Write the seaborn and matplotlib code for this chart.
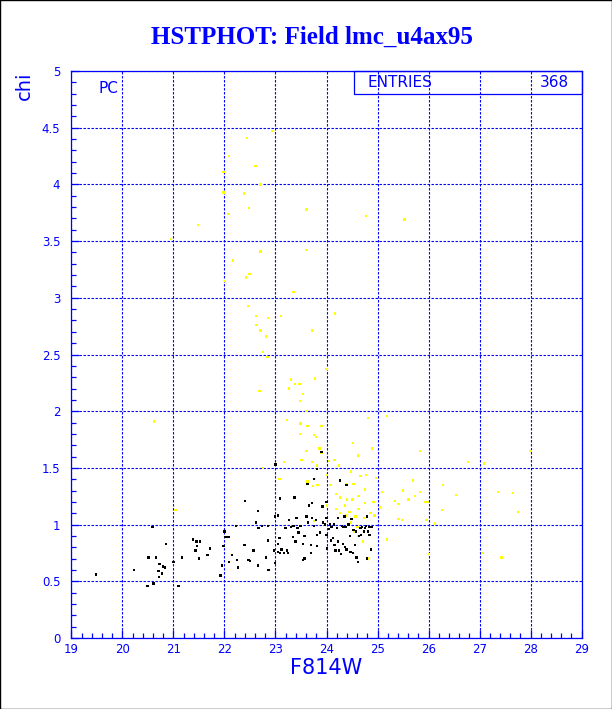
import pandas as pd
import matplotlib
matplotlib.use("Agg")
import matplotlib.pyplot as plt
import matplotlib.ticker as mticker
from matplotlib.patches import Rectangle
import seaborn as sns

# ── Data: stars ────────────────────────────────────────────────
good_mag = [19.48, 20.23, 20.49, 20.61, 20.59, 20.51, 20.66, 20.73, 20.71, 20.72,
            20.77, 20.80, 20.84, 20.85, 21.00, 21.10, 21.17, 21.38, 21.45, 21.52,
            21.46, 21.43, 21.50, 21.67, 21.72, 21.92, 21.95, 21.98, 22.01, 22.05,
            22.09, 22.00, 22.09, 22.15, 22.25, 22.27, 22.23, 22.39, 22.40, 22.47,
            22.50, 22.57, 22.62, 22.66, 22.67, 22.66, 22.73, 22.82, 22.85, 22.85,
            22.86, 22.97, 22.99, 22.99, 23.00, 23.05, 23.05, 23.08, 23.09, 23.09,
            23.05, 23.12, 23.17, 23.20, 23.22, 23.26, 23.25, 23.30, 23.34, 23.35,
            23.37, 23.39, 23.41, 23.43, 23.45, 23.49, 23.54, 23.54, 23.57, 23.57,
            23.61, 23.63, 23.64, 23.66, 23.70, 23.71, 23.72, 23.76, 23.70, 23.75,
            23.79, 23.81, 23.81, 23.81, 23.87, 23.90, 23.92, 23.93, 23.97, 24.00,
            24.00, 24.00, 24.01, 24.05, 24.07, 24.09, 24.10, 24.13, 24.15, 24.16,
            24.18, 24.20, 24.22, 24.23, 24.24, 24.27, 24.28, 24.30, 24.32, 24.33,
            24.35, 24.36, 24.38, 24.39, 24.39, 24.43, 24.46, 24.47, 24.49, 24.52,
            24.53, 24.56, 24.58, 24.59, 24.62, 24.64, 24.67, 24.68, 24.70, 24.74,
            24.76, 24.78, 24.79, 24.79, 24.81, 24.83, 24.87, 24.88, 24.84]
good_chi = [0.56, 0.60, 0.46, 0.48, 0.98, 0.71, 0.71, 0.65, 0.59, 0.54,
            0.57, 0.63, 0.62, 0.83, 0.67, 0.46, 0.71, 0.87, 0.85, 0.85,
            0.81, 0.77, 0.70, 0.73, 0.79, 0.55, 0.64, 0.81, 0.89, 0.89,
            0.89, 0.94, 0.67, 0.73, 0.69, 0.62, 0.99, 0.82, 1.21, 0.69,
            0.68, 0.77, 1.02, 1.12, 0.97, 0.64, 0.99, 0.71, 0.99, 0.86,
            0.60, 0.77, 0.66, 1.07, 1.53, 0.76, 0.83, 0.88, 0.75, 1.23,
            1.08, 0.78, 0.75, 0.97, 0.77, 1.04, 0.75, 0.98, 0.89, 0.99,
            1.24, 0.85, 1.06, 0.97, 0.93, 0.99, 0.83, 0.69, 0.70, 0.90,
            1.07, 1.36, 1.02, 1.17, 0.82, 1.19, 1.06, 1.40, 0.75, 0.99,
            1.04, 0.91, 0.81, 1.49, 0.93, 1.64, 1.16, 1.02, 1.00, 1.20,
            0.91, 1.06, 0.79, 0.96, 1.00, 0.86, 0.98, 0.88, 1.00, 0.82,
            0.77, 0.97, 0.85, 1.06, 0.77, 1.39, 0.74, 0.99, 0.83, 0.98,
            1.07, 0.80, 0.98, 1.35, 0.78, 1.00, 0.90, 0.76, 1.05, 0.75,
            0.95, 0.82, 0.94, 0.71, 0.67, 0.90, 0.97, 0.91, 0.98, 0.94,
            0.97, 0.99, 1.07, 0.70, 0.94, 0.98, 0.78, 0.98, 0.91]

bad_mag = [22.93, 22.44, 22.09, 22.61, 21.98, 22.71, 21.98, 22.38, 22.08, 22.48,
           23.61, 24.77, 25.53, 21.48, 20.95, 22.71, 23.61, 22.17, 22.01, 22.42,
           22.49, 23.35, 22.46, 22.62, 23.11, 24.17, 22.85, 22.63, 22.71, 23.71,
           22.81, 22.76, 22.84, 22.69, 24.00, 23.78, 23.31, 23.38, 23.47, 23.27,
           23.54, 23.48, 23.61, 23.23, 20.62, 24.81, 25.19, 23.49, 23.63, 23.90,
           23.48, 23.76, 23.80, 24.52, 23.61, 23.86, 23.90, 24.89, 24.62, 25.83,
           28.00, 23.51, 24.05, 24.16, 24.24, 23.17, 23.72, 23.81, 22.76, 26.77,
           27.09, 24.48, 24.01, 23.77, 23.08, 24.67, 24.77, 24.97, 25.70, 26.28,
           23.63, 23.82, 23.73, 24.08, 24.39, 24.53, 24.76, 27.36, 27.66, 25.09,
           25.50, 25.83, 26.54, 24.19, 24.26, 24.40, 24.51, 24.63, 25.34, 25.61,
           25.73, 25.94, 25.99, 25.41, 24.92, 24.75, 24.36, 24.01, 24.63, 24.45,
           24.19, 24.27, 24.38, 26.26, 27.75, 21.04, 25.05, 24.86, 24.57, 24.73,
           25.41, 25.48, 25.96, 26.13, 24.94, 24.48, 24.61, 24.54, 24.62, 24.71,
           25.19, 26.01, 27.06, 27.43, 24.80, 23.76]
bad_chi = [4.47, 4.41, 4.25, 4.16, 4.11, 4.00, 3.93, 3.92, 3.74, 3.79,
           3.78, 3.72, 3.69, 3.64, 3.52, 3.41, 3.42, 3.33, 3.15, 3.18,
           3.21, 3.05, 2.93, 2.84, 2.84, 2.86, 2.82, 2.76, 2.71, 2.71,
           2.66, 2.52, 2.48, 2.18, 2.37, 2.29, 2.28, 2.24, 2.24, 2.20,
           2.15, 2.09, 2.00, 1.92, 1.91, 1.94, 1.96, 1.89, 1.87, 1.87,
           1.80, 1.79, 1.77, 1.72, 1.65, 1.67, 1.63, 1.67, 1.61, 1.65,
           1.65, 1.57, 1.56, 1.57, 1.52, 1.55, 1.55, 1.52, 1.50, 1.55,
           1.54, 1.47, 1.44, 1.40, 1.40, 1.43, 1.44, 1.41, 1.39, 1.35,
           1.38, 1.35, 1.34, 1.35, 1.36, 1.36, 1.31, 1.29, 1.28, 1.29,
           1.30, 1.29, 1.26, 1.27, 1.24, 1.22, 1.22, 1.25, 1.21, 1.22,
           1.25, 1.20, 1.20, 1.18, 1.20, 1.19, 1.17, 1.17, 1.14, 1.11,
           1.14, 1.10, 1.08, 1.13, 1.11, 1.13, 1.15, 1.10, 1.07, 1.06,
           1.05, 1.04, 1.04, 1.01, 1.08, 1.02, 0.98, 0.94, 0.90, 0.85,
           0.87, 0.74, 0.75, 0.71, 0.70, 1.03]

n_entries = 368

df = pd.concat([
    pd.DataFrame({'mag': bad_mag, 'chi': bad_chi, 'flag': 'bad'}),
    pd.DataFrame({'mag': good_mag, 'chi': good_chi, 'flag': 'good'}),
], ignore_index=True)

# ── Style ───────────────────────────────────────────────────
sns.set_style("ticks")
plt.rcParams['font.family'] = ['DejaVu Sans']
BLUE = '#0000ff'

fig = plt.figure(figsize=(6.12, 7.09), dpi=100)
fig.patch.set_facecolor('white')
ax = fig.add_axes([71.4 / 612, 1 - 638 / 709, 510.2 / 612, 567 / 709])

sns.scatterplot(data=df, x='mag', y='chi', hue='flag',
                palette={'bad': '#ffff00', 'good': '#000000'},
                marker='s', s=3, linewidth=0, legend=False, ax=ax, zorder=3)

ax.set_xlim(19, 29)
ax.set_ylim(0, 5)
ax.xaxis.set_major_locator(mticker.MultipleLocator(1))
ax.xaxis.set_minor_locator(mticker.MultipleLocator(0.2))
ax.yaxis.set_major_locator(mticker.MultipleLocator(0.5))
ax.yaxis.set_minor_locator(mticker.MultipleLocator(0.1))
ax.yaxis.set_major_formatter(mticker.FuncFormatter(lambda v, _: f'{v:g}'))
ax.grid(True, which='major', color=BLUE, linestyle=(0, (2.2, 1.4)), linewidth=0.8)
ax.set_axisbelow(True)

for sp in ax.spines.values():
    sp.set_visible(True)
    sp.set_color(BLUE)
    sp.set_linewidth(0.9)
ax.tick_params(which='both', direction='in', bottom=True, left=True, top=False, right=False,
               colors=BLUE, labelcolor=BLUE, labelsize=8.5, width=0.9)
ax.tick_params(which='major', length=5.5)
ax.tick_params(which='minor', length=3.5)
ax.tick_params(axis='x', pad=3.5)
ax.tick_params(axis='y', pad=8)
ax.set_xlabel('')
ax.set_ylabel('')

# ── Texts ───────────────────────────────────────────────────
fig.text(311.6 / 612, 1 - 37.5 / 709, 'HSTPHOT: Field lmc_u4ax95', ha='center', va='center',
         fontsize=18, fontweight='bold', family='Liberation Serif', color=BLUE)
fig.text(326 / 612, 1 - 668 / 709, 'F814W', ha='center', va='center', fontsize=15, color=BLUE)
fig.text(24 / 612, 1 - 86 / 709, 'chi', ha='center', va='center', rotation=90,
         fontsize=14, color=BLUE)
ax.text(0.054, 0.970, 'PC', transform=ax.transAxes, ha='left', va='center',
        fontsize=11, color=BLUE)

# stats box
ax.add_patch(Rectangle((0.554, 0.960), 0.446, 0.040, transform=ax.transAxes,
                       fill=False, edgecolor=BLUE, linewidth=0.9, clip_on=False, zorder=5))
ax.text(0.581, 0.979, 'ENTRIES', transform=ax.transAxes, ha='left', va='center',
        fontsize=11, color=BLUE)
ax.text(0.975, 0.979, f'{n_entries}', transform=ax.transAxes, ha='right', va='center',
        fontsize=11, color=BLUE)

# frame round the whole canvas
fig.add_artist(Rectangle((0, 0), 1, 1, transform=fig.transFigure, fill=False,
                         edgecolor='black', linewidth=1.0))

plt.savefig('out.png', dpi=100)
